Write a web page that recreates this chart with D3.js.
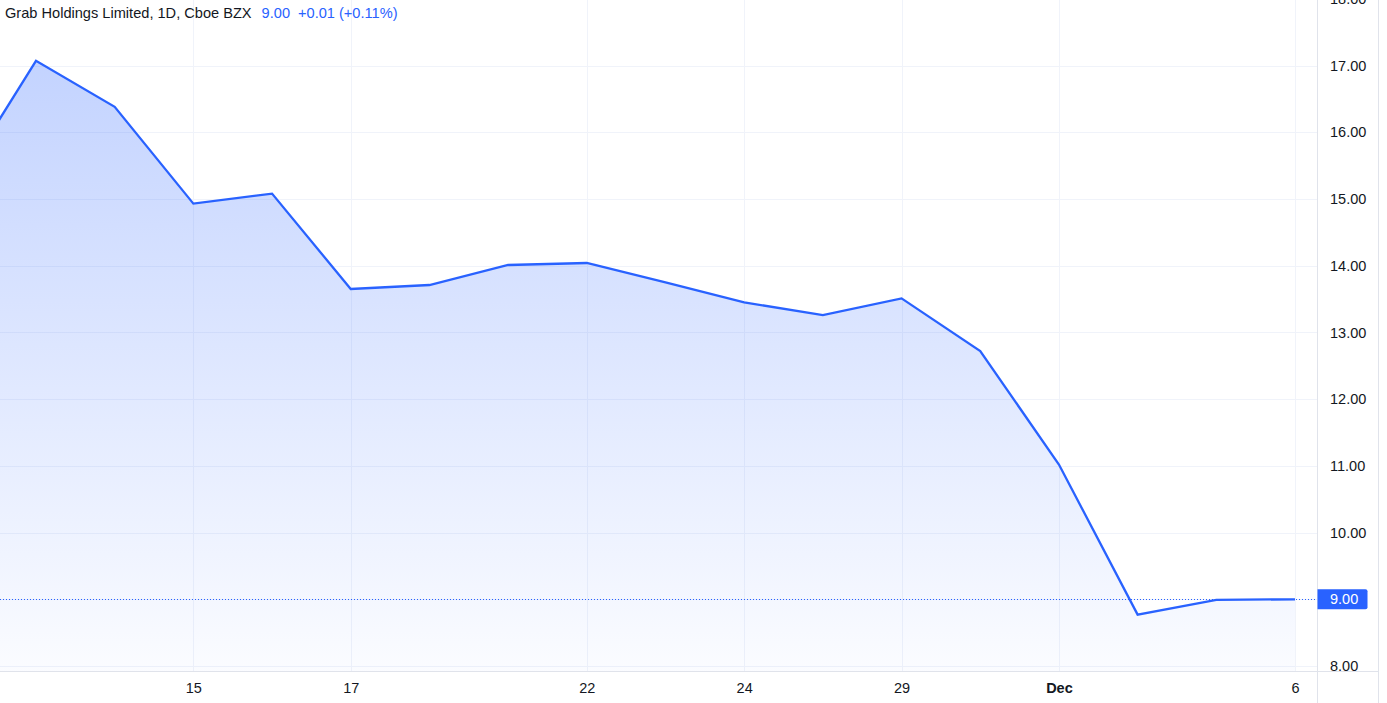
<!DOCTYPE html>
<html>
<head>
<meta charset="utf-8">
<script src="https://cdn.jsdelivr.net/npm/d3@7"></script>
<style>
  html, body { margin: 0; padding: 0; background: #ffffff; }
  svg { display: block; }
  text { font-family: "Liberation Sans", Arial, sans-serif; }
</style>
</head>
<body>
<svg id="chart" width="1387" height="703"></svg>
<script>
// ---- data ----
const dates = ["2021-11-10","2021-11-11","2021-11-12","2021-11-15","2021-11-16","2021-11-17",
  "2021-11-18","2021-11-19","2021-11-22","2021-11-23","2021-11-24","2021-11-26","2021-11-29",
  "2021-11-30","2021-12-01","2021-12-02","2021-12-03","2021-12-06"];
const closes = [15.18, 17.07, 16.38, 14.93, 15.08, 13.65, 13.71, 14.01, 14.04, 13.75, 13.45,
  13.26, 13.51, 12.72, 11.02, 8.77, 8.99, 9.00];
const xTickDates = ["2021-11-15","2021-11-17","2021-11-22","2021-11-24","2021-11-29","2021-12-01","2021-12-06"];
const xTickLabels = ["15","17","22","24","29","Dec","6"];
const yTicks = [8, 9, 10, 11, 12, 13, 14, 15, 16, 17, 18];
const titleText = "Grab Holdings Limited, 1D, Cboe BZX";
const lastText = "9.00";
const changeText = "+0.01 (+0.11%)";

// ---- layout ----
const W = 1387, H = 703;
const plotRight = 1317, plotBottom = 672, scaleRight = 1378;
const blue = "#2962ff", grid = "#f0f3fa", border = "#e0e3eb", ink = "#131722";

const svg = d3.select("#chart");

const x = d3.scalePoint().domain(dates).range([-42.7, 1295]);
const y = d3.scaleLinear().domain([8, 17]).range([666, 65.5]);

const defs = svg.append("defs");
defs.append("clipPath").attr("id", "plotClip")
  .append("rect").attr("x", 0).attr("y", 0).attr("width", plotRight).attr("height", plotBottom);
const grad = defs.append("linearGradient").attr("id", "areaGrad")
  .attr("gradientUnits", "userSpaceOnUse")
  .attr("x1", 0).attr("x2", 0).attr("y1", y(d3.max(closes))).attr("y2", plotBottom);
grad.append("stop").attr("offset", 0).attr("stop-color", blue).attr("stop-opacity", 0.28);
grad.append("stop").attr("offset", 1).attr("stop-color", blue).attr("stop-opacity", 0.02);

// gridlines
const gridG = svg.append("g");
gridG.selectAll("line.h").data(yTicks).join("line")
  .attr("x1", 0).attr("x2", plotRight)
  .attr("y1", d => Math.round(y(d)) + 0.5).attr("y2", d => Math.round(y(d)) + 0.5)
  .attr("stroke", grid).attr("stroke-width", 1);
gridG.selectAll("line.v").data(xTickDates).join("line")
  .attr("y1", 0).attr("y2", plotBottom)
  .attr("x1", d => Math.round(x(d)) + 0.5).attr("x2", d => Math.round(x(d)) + 0.5)
  .attr("stroke", grid).attr("stroke-width", 1);

// area + line
const data = dates.map((d, i) => ({ d, v: closes[i] }));
const plot = svg.append("g").attr("clip-path", "url(#plotClip)");
plot.append("path").datum(data)
  .attr("d", d3.area().x(p => x(p.d)).y0(plotBottom).y1(p => y(p.v)))
  .attr("fill", "url(#areaGrad)");
plot.append("path").datum(data)
  .attr("d", d3.line().x(p => x(p.d)).y(p => y(p.v)))
  .attr("fill", "none").attr("stroke", blue).attr("stroke-width", 2.3)
  .attr("stroke-linejoin", "miter");

// last price dotted line
const lastV = closes[closes.length - 1];
const ly = Math.round(y(lastV)) + 0.5;
svg.append("line").attr("x1", 0).attr("x2", plotRight).attr("y1", ly).attr("y2", ly)
  .attr("stroke", blue).attr("stroke-width", 1).attr("stroke-dasharray", "1,2");

// borders
svg.append("line").attr("x1", plotRight + 0.5).attr("x2", plotRight + 0.5).attr("y1", 0).attr("y2", H)
  .attr("stroke", border);
svg.append("line").attr("x1", scaleRight + 0.5).attr("x2", scaleRight + 0.5).attr("y1", 0).attr("y2", H)
  .attr("stroke", border);
svg.append("line").attr("x1", 0).attr("x2", scaleRight).attr("y1", plotBottom - 0.5).attr("y2", plotBottom - 0.5)
  .attr("stroke", border);

// right axis
const yAxis = d3.axisRight(y).tickValues(yTicks).tickFormat(d3.format(".2f")).tickSize(0).tickPadding(13);
const yg = svg.append("g").attr("transform", `translate(${plotRight},0)`).call(yAxis);
yg.select(".domain").remove();
yg.selectAll("text").attr("fill", ink).style("font-size", "14.5px")
  .style("font-family", "'Liberation Sans', Arial, sans-serif");

// bottom axis
const xAxis = d3.axisBottom(x).tickValues(xTickDates)
  .tickFormat(d => xTickLabels[xTickDates.indexOf(d)]).tickSize(0).tickPadding(11);
const xg = svg.append("g").attr("transform", `translate(0,${plotBottom})`).call(xAxis);
xg.select(".domain").remove();
xg.selectAll("text").attr("fill", ink).style("font-size", "14.5px")
  .style("font-family", "'Liberation Sans', Arial, sans-serif")
  .style("font-weight", d => xTickLabels[xTickDates.indexOf(d)] === "Dec" ? "bold" : "normal");

// last price label
const bx = plotRight + 0.5, bw = 50, bh = 20, by = y(lastV) - bh / 2, r = 2;
svg.append("path")
  .attr("d", `M${bx},${by} H${bx + bw - r} Q${bx + bw},${by} ${bx + bw},${by + r} V${by + bh - r} Q${bx + bw},${by + bh} ${bx + bw - r},${by + bh} H${bx} Z`)
  .attr("fill", blue);
svg.append("text").attr("x", plotRight + 13).attr("y", y(lastV)).attr("dy", "0.35em")
  .attr("fill", "#ffffff").style("font-size", "14.5px").text(d3.format(".2f")(lastV));

// title
const title = svg.append("text").attr("x", 5).attr("y", 18).style("font-size", "14.6px");
title.append("tspan").attr("fill", ink).text(titleText);
title.append("tspan").attr("fill", blue).attr("dx", 10).text(lastText);
title.append("tspan").attr("fill", blue).attr("dx", 8).text(changeText);
</script>
</body>
</html>
